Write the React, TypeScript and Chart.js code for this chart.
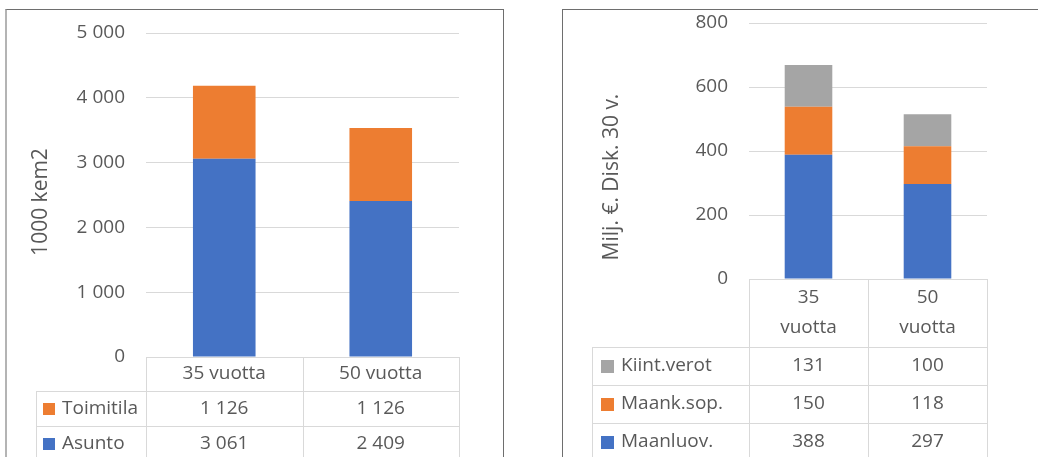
import React, { useEffect, useRef } from 'react';
import { Chart, registerables } from 'chart.js';

Chart.register(...registerables);

// ---------- Data ----------
const leftCategories = ['35 vuotta', '50 vuotta'];
const asuntoValues = [3061, 2409];
const toimitilaValues = [1126, 1126];
const leftAxisTitle = '1000 kem2';
const leftYMax = 5000;
const leftYStep = 1000;

const rightCategories = [['35', 'vuotta'], ['50', 'vuotta']];
const maanluovValues = [388, 297];
const maanksopValues = [150, 118];
const kiintverotValues = [131, 100];
const rightAxisTitle = 'Milj. €. Disk. 30 v.';
const rightYMax = 800;
const rightYStep = 200;

// ---------- Styles ----------
const BLUE = '#4472C4';
const ORANGE = '#ED7D31';
const GRAY = '#A5A5A5';
const TEXT = '#595959';
const LINE = '#D9D9D9';
const FONT = '"Open Sans", "Noto Sans", sans-serif';

const fmtSpace = (v: number) => String(v).replace(/\B(?=(\d{3})+(?!\d))/g, ' ');

const tablePlugin = {
  id: 'dataTable',
  afterDraw(chart: any, _args: any, opts: any) {
    const { ctx, chartArea } = chart;
    const xs = chart.scales.x;
    const labels = chart.data.labels as any[];
    const n = labels.length;
    const left = chartArea.left;
    const right = chartArea.right;
    const top = chartArea.bottom;
    const colW = (right - left) / n;
    const datasets = [...chart.data.datasets].reverse();
    const headerBottom = top + opts.headerH;
    const bottom = headerBottom + datasets.length * opts.rowH;
    const a = (v: number) => Math.round(v) + 0.5;

    ctx.save();
    ctx.strokeStyle = LINE;
    ctx.lineWidth = 1;
    ctx.beginPath();
    ctx.moveTo(left, a(top));
    ctx.lineTo(right, a(top));
    for (let r = 0; r <= datasets.length; r++) {
      const y = a(headerBottom + r * opts.rowH);
      ctx.moveTo(opts.legendLeft, y);
      ctx.lineTo(right, y);
    }
    for (let c = 0; c <= n; c++) {
      const x = a(left + c * colW);
      ctx.moveTo(x, top);
      ctx.lineTo(x, bottom);
    }
    ctx.moveTo(a(opts.legendLeft), headerBottom);
    ctx.lineTo(a(opts.legendLeft), bottom);
    ctx.stroke();

    ctx.fillStyle = TEXT;
    ctx.font = `${opts.fontSize}px ${FONT}`;
    ctx.textBaseline = 'middle';
    ctx.textAlign = 'center';
    labels.forEach((lab, i) => {
      const cx = xs.getPixelForValue(i);
      const lines = Array.isArray(lab) ? lab : [lab];
      const cy = top + opts.headerH / 2;
      lines.forEach((ln: string, k: number) => {
        const y = cy + (k - (lines.length - 1) / 2) * opts.lineH;
        ctx.fillText(ln, cx, y);
      });
    });
    datasets.forEach((ds: any, r: number) => {
      const cy = headerBottom + r * opts.rowH + opts.rowH / 2;
      ctx.fillStyle = ds.backgroundColor;
      ctx.fillRect(opts.legendLeft + opts.sqOff, Math.round(cy - opts.sq / 2), opts.sq, opts.sq);
      ctx.fillStyle = TEXT;
      ctx.textAlign = 'left';
      ctx.fillText(ds.label, opts.legendLeft + opts.textOff, cy);
      ctx.textAlign = 'center';
      ds.data.forEach((v: number, i: number) => {
        ctx.fillText(opts.format(v), xs.getPixelForValue(i), cy);
      });
    });

    ctx.save();
    ctx.translate(opts.titleX, opts.titleY);
    ctx.rotate(-Math.PI / 2);
    ctx.font = `${opts.titleSize}px ${FONT}`;
    ctx.textAlign = 'center';
    ctx.textBaseline = 'middle';
    ctx.fillStyle = TEXT;
    ctx.fillText(opts.title, 0, 0);
    ctx.restore();
    ctx.restore();
  },
};

function makeConfig(p: any) {
  return {
    type: 'bar',
    data: {
      labels: p.labels,
      datasets: p.datasets.map((d: any) => ({
        label: d.label,
        data: d.data,
        backgroundColor: d.color,
        borderWidth: 0,
        barPercentage: 0.4,
        categoryPercentage: 1,
      })),
    },
    options: {
      responsive: false,
      animation: false,
      devicePixelRatio: 1,
      layout: { padding: p.padding },
      plugins: {
        legend: { display: false },
        tooltip: { enabled: false },
        dataTable: p.table,
      },
      scales: {
        x: { display: false, stacked: true },
        y: {
          stacked: true,
          min: 0,
          max: p.max,
          ticks: {
            stepSize: p.step,
            padding: 0,
            color: TEXT,
            font: { family: FONT, size: 19 },
            callback: (v: any) => fmtSpace(Number(v)),
          },
          grid: { color: LINE, lineWidth: 1, drawTicks: true, tickLength: 21, tickColor: 'rgba(0,0,0,0)' },
          border: { display: false },
          afterFit: (s: any) => {
            s.width = p.axisWidth;
          },
        },
      },
    },
    plugins: [tablePlugin],
  } as any;
}

function ChartCanvas({ config, style, width, height }: any) {
  const ref = useRef<HTMLCanvasElement>(null);
  useEffect(() => {
    const chart = new Chart(ref.current as HTMLCanvasElement, config);
    return () => chart.destroy();
  }, []);
  return <canvas ref={ref} width={width} height={height} style={{ position: 'absolute', width, height, ...style }} />;
}

export default function App() {
  const leftConfig = makeConfig({
    labels: leftCategories,
    datasets: [
      { label: 'Asunto', data: asuntoValues, color: BLUE },
      { label: 'Toimitila', data: toimitilaValues, color: ORANGE },
    ],
    max: leftYMax,
    step: leftYStep,
    axisWidth: 137,
    padding: { top: 23, right: 43, bottom: 100, left: 0 },
    table: {
      headerH: 34,
      rowH: 35,
      lineH: 26,
      legendLeft: 27,
      sqOff: 7,
      sq: 12,
      textOff: 26,
      fontSize: 19,
      format: fmtSpace,
      title: leftAxisTitle,
      titleX: 32,
      titleY: 192,
      titleSize: 21,
    },
  });
  const rightConfig = makeConfig({
    labels: rightCategories,
    datasets: [
      { label: 'Maanluov.', data: maanluovValues, color: BLUE },
      { label: 'Maank.sop.', data: maanksopValues, color: ORANGE },
      { label: 'Kiint.verot', data: kiintverotValues, color: GRAY },
    ],
    max: rightYMax,
    step: rightYStep,
    axisWidth: 185,
    padding: { top: 13, right: 51, bottom: 178, left: 0 },
    table: {
      headerH: 68,
      rowH: 38,
      lineH: 30,
      legendLeft: 28,
      sqOff: 9,
      sq: 13,
      textOff: 29,
      fontSize: 19,
      format: (v: number) => String(v),
      title: rightAxisTitle,
      titleX: 48,
      titleY: 167,
      titleSize: 21,
    },
  });

  return (
    <div style={{ position: 'fixed', left: 0, top: 0, width: 1038, height: 457, background: '#fff', overflow: 'hidden' }}>
      <div
        style={{
          position: 'absolute', left: 5, top: 9, width: 496, height: 470,
          borderTop: '1px solid #6e6e6e', borderLeft: '2px solid #b4b4b4', borderRight: '1px solid #6e6e6e',
        }}
      />
      <div
        style={{
          position: 'absolute', left: 562, top: 9, width: 600, height: 470,
          borderTop: '1px solid #6e6e6e', borderLeft: '1px solid #6e6e6e',
        }}
      />
      <ChartCanvas config={leftConfig} width={493} height={447} style={{ left: 9, top: 10 }} />
      <ChartCanvas config={rightConfig} width={474} height={447} style={{ left: 564, top: 10 }} />
    </div>
  );
}
